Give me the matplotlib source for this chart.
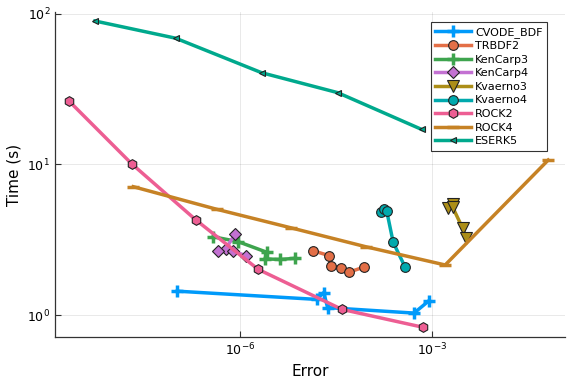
import matplotlib
matplotlib.use("Agg")
import matplotlib.pyplot as plt
import numpy as np

# Data (error, time)
cvode_err = [1.05e-7, 1.58e-5, 2.04e-5, 2.34e-5, 5.25e-4, 8.9e-4]
cvode_t   = [1.44, 1.27, 1.41, 1.12, 1.03, 1.24]

trbdf2_err = [1.40e-5, 2.48e-5, 2.61e-5, 3.74e-5, 5.11e-5, 8.65e-5]
trbdf2_t   = [2.67, 2.48, 2.11, 2.06, 1.93, 2.08]

kc3_err = [3.83e-7, 9.40e-7, 2.64e-6, 2.46e-6, 4.22e-6, 7.23e-6]
kc3_t   = [3.31, 3.07, 2.61, 2.36, 2.34, 2.38]

kc4_err = [8.36e-7, 5.98e-7, 4.49e-7, 7.85e-7, 1.23e-6]
kc4_t   = [3.44, 2.75, 2.68, 2.66, 2.48]

kv3_err = [1.80e-3, 2.15e-3, 2.10e-3, 3.02e-3, 3.40e-3]
kv3_t   = [5.12, 5.47, 5.22, 3.77, 3.23]

kv4_err = [1.60e-4, 1.80e-4, 1.96e-4, 2.48e-4, 3.83e-4]
kv4_t   = [4.81, 5.04, 4.93, 3.04, 2.07]

rock2_err = [2.13e-9, 2.05e-8, 2.05e-7, 1.93e-6, 3.93e-5, 7.16e-4]
rock2_t   = [26.4, 10.07, 4.28, 2.01, 1.09, 0.83]

rock4_err = [2.15e-8, 4.33e-7, 6.19e-6, 9.31e-5, 1.61e-3, 6.56e-2]
rock4_t   = [7.12, 5.04, 3.80, 2.84, 2.15, 10.7]

eserk5_err = [5.42e-9, 9.89e-8, 2.18e-6, 3.37e-5, 6.90e-4]
eserk5_t   = [89.8, 69.0, 40.7, 30.0, 17.1]

labels = ["CVODE_BDF", "TRBDF2", "KenCarp3", "KenCarp4", "Kvaerno3",
          "Kvaerno4", "ROCK2", "ROCK4", "ESERK5"]
colors = ["#009AFA", "#E36F47", "#3EA44E", "#C371D2", "#AC8E18",
          "#00A9AD", "#ED5E93", "#C68225", "#00A98D"]
markers = ["+", "o", "+", "D", "v", "o", "h", "_", "<"]
msizes = [9, 7, 9, 6, 8, 7, 7, 8, 5]
series = [(cvode_err, cvode_t), (trbdf2_err, trbdf2_t), (kc3_err, kc3_t),
          (kc4_err, kc4_t), (kv3_err, kv3_t), (kv4_err, kv4_t),
          (rock2_err, rock2_t), (rock4_err, rock4_t), (eserk5_err, eserk5_t)]

fig = plt.figure(figsize=(5.76, 3.84), dpi=100)
ax = fig.add_axes([0.0955, 0.1224, 0.8855, 0.8456])

for (x, y), lab, c, m, ms in zip(series, labels, colors, markers, msizes):
    if m in ("+", "_"):
        ax.plot(x, y, color=c, lw=2.5, marker=m, ms=ms, mfc=c, mec=c,
                mew=2.5, label=lab)
    else:
        ax.plot(x, y, color=c, lw=2.5, marker=m, ms=ms, mfc=c,
                mec="#222222", mew=0.8, label=lab)

ax.set_xscale("log")
ax.set_yscale("log")
ax.set_xlim(10**-8.89, 10**-0.92)
ax.set_ylim(10**-0.146, 10**2.011)
ax.set_xticks([1e-6, 1e-3])
ax.set_xticklabels([r"$10^{-6}$", r"$10^{-3}$"])
ax.set_yticks([1, 10, 100])
ax.set_yticklabels([r"$10^{0}$", r"$10^{1}$", r"$10^{2}$"])
ax.minorticks_off()
ax.tick_params(direction="in", length=4, width=0.8, labelsize=9, color="#333333")
ax.grid(True, color="#000000", alpha=0.1, lw=0.6)
ax.spines["top"].set_visible(False)
ax.spines["right"].set_visible(False)
for s in ("left", "bottom"):
    ax.spines[s].set_color("#333333")
    ax.spines[s].set_linewidth(0.9)
ax.set_xlabel("Error", fontsize=11)
ax.set_ylabel("Time (s)", fontsize=11)

leg = ax.legend(loc="upper right", bbox_to_anchor=(0.965, 0.969), fontsize=8,
                frameon=True, fancybox=False, edgecolor="black",
                handlelength=3.2, borderpad=0.4, labelspacing=0.32,
                handletextpad=0.4, borderaxespad=0)
leg.get_frame().set_linewidth(0.8)

fig.savefig("out.png", dpi=100)
